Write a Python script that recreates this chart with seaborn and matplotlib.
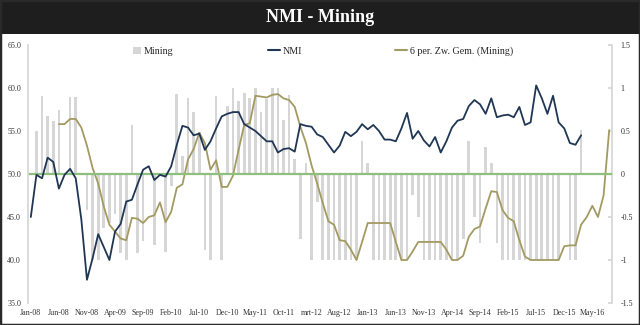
import numpy as np
import pandas as pd
import matplotlib
matplotlib.use("Agg")
import matplotlib.pyplot as plt
import seaborn as sns
from matplotlib.patches import Rectangle, Patch
from matplotlib.lines import Line2D

# ---------------- data ----------------
tick_labels = ["Jan-08", "Jun-08", "Nov-08", "Apr-09", "Sep-09", "Feb-10", "Jul-10",
               "Dec-10", "May-11", "Oct-11", "mrt-12", "Aug-12", "Jan-13", "Jun-13",
               "Nov-13", "Apr-14", "Sep-14", "Feb-15", "Jul-15", "Dec-15", "May-16"]

nmi = [45.0, 49.9, 49.5, 51.9, 51.4, 48.3, 49.9, 50.6, 49.5, 44.7,
       37.7, 40.2, 43.0, 41.5, 40.0, 43.3, 44.2, 46.8, 47.0, 48.8,
       50.5, 50.9, 49.3, 49.9, 49.7, 50.9, 53.4, 55.6, 55.4, 54.5,
       54.7, 52.8, 53.8, 55.3, 56.7, 57.0, 57.2, 57.2, 55.8, 55.4,
       55.0, 54.4, 53.8, 53.8, 52.5, 52.9, 53.0, 52.6, 55.8, 55.6,
       55.5, 54.6, 54.3, 53.4, 52.5, 53.3, 54.9, 54.4, 54.9, 55.8,
       55.2, 55.7, 55.0, 54.0, 54.0, 53.8, 55.3, 57.1, 54.1, 55.0,
       53.9, 53.2, 54.3, 52.5, 53.8, 55.4, 56.2, 56.4, 57.9, 58.6,
       58.1, 57.0, 58.8, 56.6, 56.8, 56.9, 56.6, 57.8, 55.7, 56.0,
       60.3, 58.8, 57.0, 59.1, 56.0, 55.3, 53.6, 53.4, 54.5,
       np.nan, np.nan, np.nan, np.nan, np.nan]

ma6 = [np.nan, np.nan, np.nan, np.nan, np.nan,
       0.58, 0.58, 0.64, 0.64, 0.54, 0.33, 0.07, -0.11, -0.38, -0.59,
       -0.67, -0.75, -0.77, -0.51, -0.52, -0.57, -0.50, -0.48, -0.33, -0.56,
       -0.44, -0.16, -0.12, 0.17, 0.29, 0.48, 0.36, 0.05, 0.16, -0.15,
       -0.15, -0.02, 0.28, 0.57, 0.59, 0.91, 0.90, 0.89, 0.92, 0.93,
       0.88, 0.86, 0.78, 0.55, 0.36, 0.10, -0.11, -0.34, -0.55, -0.59,
       -0.77, -0.78, -0.88, -1.00, -0.79, -0.57, -0.57, -0.57, -0.57, -0.57,
       -0.79, -1.00, -1.00, -0.90, -0.79, -0.79, -0.79, -0.79, -0.79, -0.88,
       -1.00, -1.00, -0.95, -0.73, -0.64, -0.61, -0.40, -0.20, -0.21, -0.42,
       -0.51, -0.55, -0.77, -0.96, -1.00, -1.00, -1.00, -1.00, -1.00, -1.00,
       -0.84, -0.83, -0.83, -0.59, -0.50, -0.37, -0.50, -0.25, 0.51]

mining = [0.0, 0.50, 0.91, 0.67, 0.62, 0.75, 0.0, 0.90, 0.90, 0.0,
          -0.42, -1.0, -1.0, -0.63, -0.57, -0.46, -0.92, -1.0, 0.57, -0.92,
          -0.78, 0.0, -0.83, 0.0, -0.91, -0.14, 0.93, 0.21, 0.88, 0.72,
          0.49, -0.88, -1.0, 0.91, -1.0, 0.79, 1.0, 0.85, 0.94, 0.88,
          1.0, 0.72, 0.87, 1.0, 1.0, 0.63, 0.92, 0.18, -0.76, 0.13,
          -1.0, -0.33, -1.0, -1.0, -1.0, -1.0, -1.0, -1.0, -1.0, 0.38,
          0.13, -1.0, -1.0, -1.0, -1.0, -1.0, -1.0, -1.0, -0.24, -0.50,
          -1.0, -1.0, -1.0, -1.0, -1.0, -1.0, -1.0, -0.76, 0.38, -0.50,
          -0.80, 0.31, 0.13, -0.80, -1.0, -1.0, -1.0, -1.0, -1.0, -1.0,
          -1.0, -1.0, -1.0, -1.0, -1.0, 0.0, -1.0, -1.0, 0.51, 0.0,
          0.0, 0.0, 0.0, 0.0]

n = len(mining)
df = pd.DataFrame({"idx": np.arange(n), "Mining": mining, "NMI": nmi, "MA": ma6})

# ---------------- style ----------------
sns.set_theme(style="white")
plt.rcParams["font.family"] = ["Liberation Serif", "DejaVu Serif"]

W, H = 640, 325
fig = plt.figure(figsize=(W / 100, H / 100), dpi=100)


def rect(l, t, r, b):
    return [l / W, 1 - b / H, (r - l) / W, (b - t) / H]


ax = fig.add_axes(rect(28, 45, 612, 303))
ax2 = ax.twinx()

navy = "#1f3654"
olive = "#a39a62"
grey = "#d6d6d6"
green = "#8cc07c"

sns.barplot(data=df, x="idx", y="Mining", ax=ax2, color=grey, width=0.48,
            saturation=1, errorbar=None, linewidth=0)
sns.lineplot(data=df, x="idx", y="MA", ax=ax2, color=olive, lw=1.3)
sns.lineplot(data=df, x="idx", y="NMI", ax=ax, color=navy, lw=1.3)
ax.axhline(50, color=green, lw=1.6, zorder=1)

ax.set_zorder(ax2.get_zorder() + 1)
ax.patch.set_visible(False)

ax.set_xlim(-0.5, n - 0.5)
ax2.set_xlim(-0.5, n - 0.5)
ax.set_ylim(35, 65)
ax2.set_ylim(-1.5, 1.5)

ax.set_yticks([35, 40, 45, 50, 55, 60, 65])
ax.set_yticklabels([f"{v:.1f}" for v in [35, 40, 45, 50, 55, 60, 65]])
ax2.set_yticks([-1.5, -1, -0.5, 0, 0.5, 1, 1.5])
ax2.set_yticklabels(["-1.5", "-1", "-0.5", "0", "0.5", "1", "1.5"])
ax.set_xticks(np.arange(0, 101, 5))
ax.set_xticklabels(tick_labels)

for a in (ax, ax2):
    a.set_xlabel("")
    a.set_ylabel("")
    for s in a.spines.values():
        s.set_visible(False)
ax.spines["left"].set_visible(True)
ax.spines["left"].set_color(grey)
ax2.spines["right"].set_visible(True)
ax2.spines["right"].set_color(grey)

ax.tick_params(axis="x", length=0, labelsize=5.8, pad=4, colors="#333333")
ax.tick_params(axis="y", length=0, labelsize=5.8, pad=5, colors="#333333")
ax2.tick_params(axis="y", length=3, direction="in", color=grey, labelsize=5.8,
                pad=6, labelcolor="#333333")

# ---------------- legend ----------------
fs = 7.2
leg_kw = dict(loc="center left", frameon=False, fontsize=fs, borderpad=0,
              borderaxespad=0, handletextpad=0.3)
fig.legend(handles=[Patch(facecolor=grey, edgecolor="none", label="Mining")],
           bbox_to_anchor=(133 / W, 1 - 51 / H), handlelength=0.75, handleheight=0.7,
           **leg_kw)
fig.legend(handles=[Line2D([], [], color=navy, lw=1.5, label="NMI")],
           bbox_to_anchor=(268 / W, 1 - 51 / H), handlelength=1.2, **leg_kw)
fig.legend(handles=[Line2D([], [], color=olive, lw=1.5, label="6 per. Zw. Gem. (Mining)")],
           bbox_to_anchor=(395 / W, 1 - 51 / H), handlelength=1.2, **leg_kw)

# ---------------- title bar & frame ----------------
fig.patches.append(Rectangle((0, 1 - 34 / H), 1, 34 / H, transform=fig.transFigure,
                             facecolor="#1e1e1e", edgecolor="none", zorder=0))
fig.text(0.5, 1 - 17 / H, "NMI - Mining", color="white", ha="center", va="center",
         fontsize=13, fontweight="bold")
fig.patches.append(Rectangle((0, 0), 1, 1, transform=fig.transFigure, fill=False,
                             edgecolor="#2a2a2a", lw=2.5, zorder=10))

fig.savefig("out.png", dpi=100)
